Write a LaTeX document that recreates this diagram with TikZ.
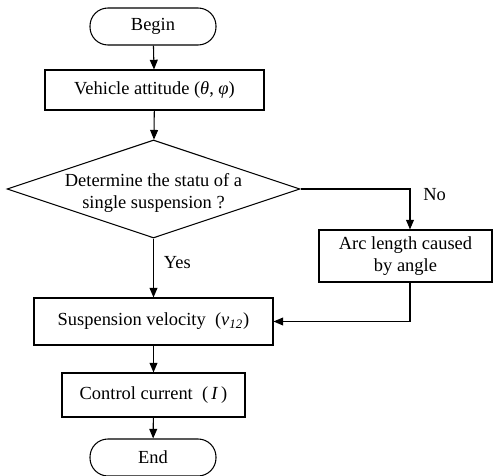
\documentclass[tikz,border=0pt]{standalone}
\usepackage{fontspec}
\setmainfont{Liberation Serif}
\usepackage{tikz}
\usetikzlibrary{arrows.meta,calc,positioning,shapes.geometric}

\begin{document}
\begin{tikzpicture}[font=\fontsize{10.5}{12.5}\selectfont]
  \tikzset{
    terminal/.style={
      draw=black,
      line width=0.6pt,
      rounded corners=0.36cm,
      minimum width=2.52cm,
      minimum height=0.74cm,
      inner sep=0pt,
    },
    procbox/.style={
      draw=black,
      line width=0.6pt,
      inner sep=0pt,
      align=center,
    },
    decision/.style={
      draw=black,
      line width=0.6pt,
      diamond,
      aspect=2.99,
      inner sep=0pt,
      minimum width=5.86cm,
      minimum height=1.96cm,
      align=center,
    },
    flowarrow/.style={
      draw=black,
      line width=0.6pt,
      -{Triangle[length=5.5pt,width=4.5pt]},
    },
    edgelabel/.style={
      anchor=west,
      inner sep=0pt,
    },
  }

  \path[use as bounding box] (0,0) rectangle (9.86,9.52);

  \node[terminal] (begin) at (3.06,8.99) {Begin};
  \node[procbox,minimum width=4.38cm,minimum height=0.80cm] (attitude) at (3.09,7.72)
    {Vehicle attitude\ (\textit{θ},\ \textit{φ})};
  \node[decision] (status) at (3.07,5.74)
    {\smash{\raisebox{-0.18cm}{\begin{tabular}{@{}c@{}}Determine the statu of a\\single suspension ?\end{tabular}}}};
  \node[procbox,minimum width=3.46cm,minimum height=1.04cm] (arclen) at (8.11,4.40)
    {Arc length caused\\by angle};
  \node[procbox,minimum width=4.78cm,minimum height=0.94cm] (velocity) at (3.07,3.09)
    {Suspension velocity\ \ (\textit{v}\textsubscript{\textit{12}})};
  \node[procbox,minimum width=3.66cm,minimum height=0.88cm] (current) at (3.07,1.62)
    {Control current\ \ (\,\textit{I}\,)};
  \node[terminal] (end) at (3.06,0.37) {End};

  \draw[flowarrow] (begin) -- (attitude);
  \draw[flowarrow] (attitude) -- (status);
  \draw[flowarrow] (status) -- (velocity);
  \draw[flowarrow] (velocity) -- (current);
  \draw[flowarrow] (current) -- (end);

  % No branch, then back into the velocity box.
  \draw[flowarrow] (status.east) -| ($(arclen.north)+(0.09,0)$);
  \draw[flowarrow] ($(arclen.south)+(0.09,0)$) |- (velocity.east);

  \node[edgelabel] (nolabel) at (8.46,5.62) {No};
  \node[edgelabel] (yeslabel) at (3.27,4.26) {Yes};
\end{tikzpicture}
\end{document}
